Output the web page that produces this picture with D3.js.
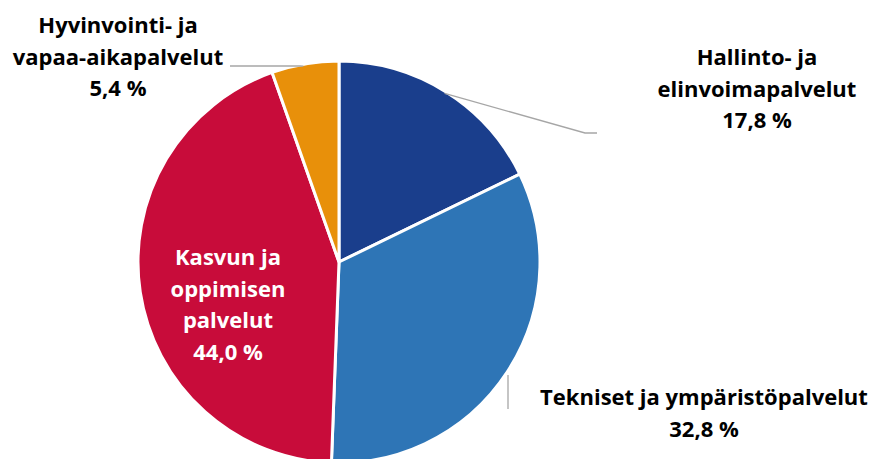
<!DOCTYPE html>
<html>
<head>
<meta charset="utf-8">
<script src="https://cdn.jsdelivr.net/npm/d3@7"></script>
<style>
  body { margin: 0; background: #fff; }
  text { font-family: "Open Sans", Lato, sans-serif; font-weight: bold; }
</style>
</head>
<body>
<div id="chart-area"></div>
<script>
var categories = ["Hallinto- ja elinvoimapalvelut", "Tekniset ja ympäristöpalvelut",
    "Kasvun ja oppimisen palvelut", "Hyvinvointi- ja vapaa-aikapalvelut"];
var values = [17.8, 32.8, 44.0, 5.4];
var colors = ["#1a3e8c", "#2e75b6", "#c80c3a", "#e8900a"];
// label lines as they break in the picture
var labelLines = [
    ["Hallinto- ja", "elinvoimapalvelut", "17,8 %"],
    ["Tekniset ja ympäristöpalvelut", "32,8 %"],
    ["Kasvun ja", "oppimisen", "palvelut", "44,0 %"],
    ["Hyvinvointi- ja", "vapaa-aikapalvelut", "5,4 %"]
];

var width = 877, height = 459;
var cx = 339, cy = 262, radius = 201;

var svg = d3.select("#chart-area")
    .append("svg")
    .attr("width", width)
    .attr("height", height);

var g = svg.append("g")
    .attr("transform", "translate(" + cx + "," + cy + ")");

var pie = d3.pie().sort(null).value(function(d){ return d; });
var arc = d3.arc().innerRadius(0).outerRadius(radius);
var arcs = pie(values);

g.selectAll("path")
    .data(arcs)
    .enter()
    .append("path")
    .attr("d", arc)
    .attr("fill", function(d, i){ return colors[i]; })
    .attr("stroke", "#fff")
    .attr("stroke-width", 3)
    .attr("stroke-linejoin", "round");

// leader lines (start on the slice edge, bent to the label)
function edgePoint(i, frac) {
    var a = arcs[i].startAngle + (arcs[i].endAngle - arcs[i].startAngle) * frac;
    return [(radius - 2) * Math.sin(a), -(radius - 2) * Math.cos(a)];
}
var leaders = [
    [edgePoint(0, 0.5), [585 - cx, 133 - cy], [597 - cx, 133 - cy]],
    [[508 - cx, 375 - cy], [508 - cx, 409 - cy]],
    null,
    [edgePoint(3, 0.47), [300 - cx, 66 - cy], [230 - cx, 66 - cy]]
];
g.selectAll("polyline")
    .data(leaders.filter(function(d){ return d; }))
    .enter()
    .append("polyline")
    .attr("points", function(d){ return d.map(function(p){ return p.join(","); }).join(" "); })
    .attr("fill", "none")
    .attr("stroke", "#a6a6a6")
    .attr("stroke-width", 1.3);

// label anchors: centre x and first baseline
var labelPos = [[757, 65], [704, 405], [228, 265], [118, 33]];
var lineH = 31.5;

svg.selectAll("text.lbl")
    .data(labelLines)
    .enter()
    .append("text")
    .attr("class", "lbl")
    .attr("text-anchor", "middle")
    .attr("font-size", "22px")
    .attr("fill", function(d, i){ return i === 2 ? "#fff" : "#000"; })
    .each(function(d, i){
        var t = d3.select(this);
        d.forEach(function(line, j){
            t.append("tspan")
                .attr("x", labelPos[i][0])
                .attr("y", labelPos[i][1] + j * lineH)
                .text(line);
        });
    });
</script>
</body>
</html>
